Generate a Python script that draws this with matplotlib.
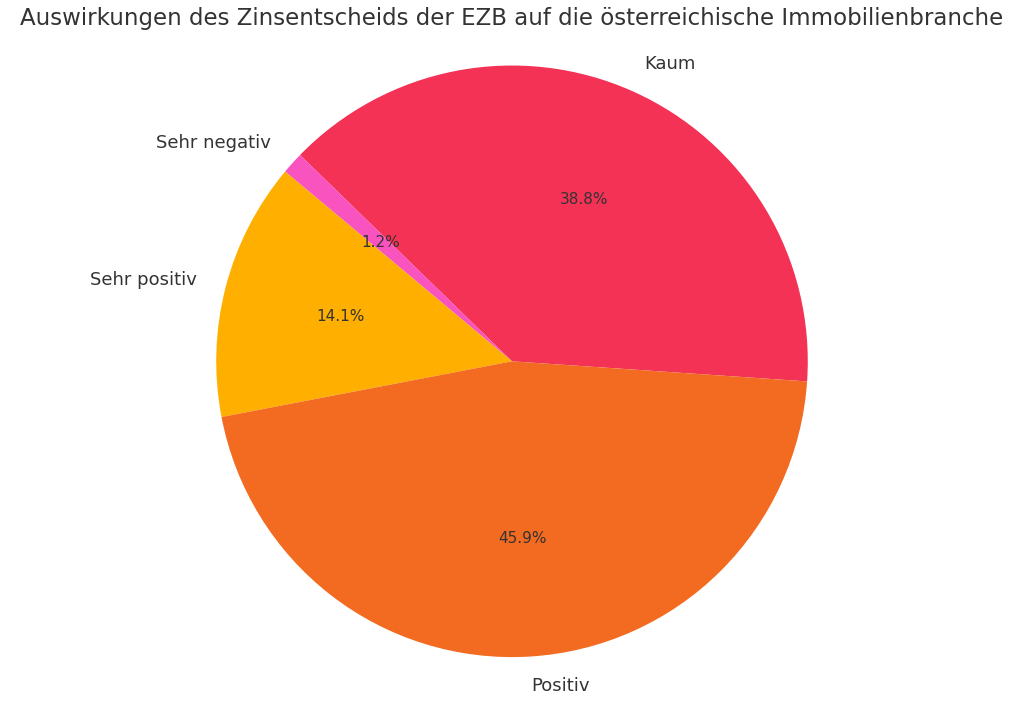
import matplotlib
matplotlib.use("Agg")
import matplotlib.pyplot as plt

labels = ["Kaum", "Sehr negativ", "Sehr positiv", "Positiv"]
values = [38.8, 1.2, 14.1, 45.9]
colors = ["#F43256", "#F953C0", "#FFAF00", "#F36A21"]

fig = plt.figure(figsize=(10.24, 7.05), dpi=100)
ax = fig.add_axes([0.06, 0.026, 0.88, 0.923])
ax.pie(values, labels=labels, colors=colors, autopct="%1.1f%%", startangle=-3.9,
       textprops={"color": "#333333", "fontsize": 11})
for t in ax.texts:
    if "%" not in t.get_text():
        t.set_fontsize(13)
ax.axis("equal")
fig.suptitle("Auswirkungen des Zinsentscheids der EZB auf die österreichische Immobilienbranche",
             fontsize=16.5, color="#333333", y=0.99)
fig.savefig("out.png", dpi=100)
